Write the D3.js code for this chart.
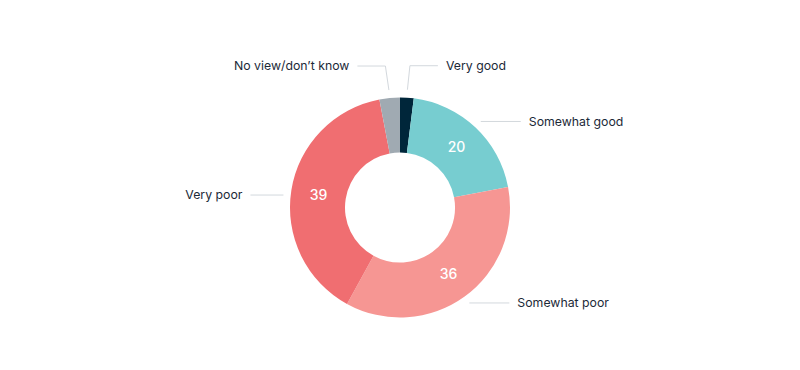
<!DOCTYPE html>
<html><head><meta charset="utf-8">
<script src="https://cdn.jsdelivr.net/npm/d3@7"></script>
<style>body{margin:0;background:#fff}svg{display:block;font-family:Inter,"Noto Sans",sans-serif}</style>
</head><body><svg id="c" width="800" height="370"></svg>
<script>
const categories = ["Very good","Somewhat good","Somewhat poor","Very poor","No view/don’t know"];
const values = [2,20,36,39,3];
const showValue = [false,true,true,true,false];
const colors = ["#00263a","#77cdd0","#f69693","#f06e71","#a0aab2"];
// label placement: elbow height (y offset relative to leader start)
const labelElbowY = [-24,0,0,6,-24];

const svg = d3.select("#c");
const cx = 400, cy = 207.5, R = 110, r = 55;
const g = svg.append("g").attr("transform",`translate(${cx},${cy})`);
const data = categories.map((c,i)=>({c,v:values[i],i}));
const pie = d3.pie().value(d=>d.v).sort(null);
const arcs = pie(data);
const arc = d3.arc().innerRadius(r).outerRadius(R);
g.selectAll("path.s").data(arcs).join("path").attr("class","s")
  .attr("d",arc).attr("fill",d=>colors[d.data.i]);

const mid = d3.arc().innerRadius(82.5).outerRadius(82.5);
g.selectAll("text.v").data(arcs.filter(d=>showValue[d.data.i])).join("text").attr("class","v")
  .attr("transform",d=>`translate(${mid.centroid(d)})`)
  .attr("text-anchor","middle").attr("dy","0.36em")
  .attr("fill","#fff").attr("font-size",14).attr("font-weight",500)
  .text(d=>d.data.v);

const lab = d3.arc().innerRadius(118).outerRadius(118);
arcs.forEach(d=>{
  const i = d.data.i;
  const [x0,y0] = lab.centroid(d);
  const a = (d.startAngle+d.endAngle)/2;
  const right = Math.sin(a) >= 0;
  let pts, tx, ty;
  if (labelElbowY[i] < -10) {
    const ey = y0 + labelElbowY[i];
    const ex = x0 + (right?2.5:-3.5);
    const hx = ex + (right?28:-28);
    pts = [[x0,y0],[ex,ey],[hx,ey]];
    tx = hx + (right?8:-8); ty = ey;
  } else {
    const y = y0 + labelElbowY[i];
    const hx = x0 + (right?40:-33);
    pts = [[x0,y],[hx,y]];
    tx = hx + (right?8:-8); ty = y;
  }
  g.append("path").attr("d",d3.line()(pts)).attr("fill","none")
   .attr("stroke","#d3d8dd").attr("stroke-width",1);
  g.append("text").attr("x",tx).attr("y",ty).attr("dy","0.35em")
   .attr("text-anchor",right?"start":"end").attr("font-size",12.3)
   .attr("fill","#1c2a38").text(d.data.c);
});
</script></body></html>
